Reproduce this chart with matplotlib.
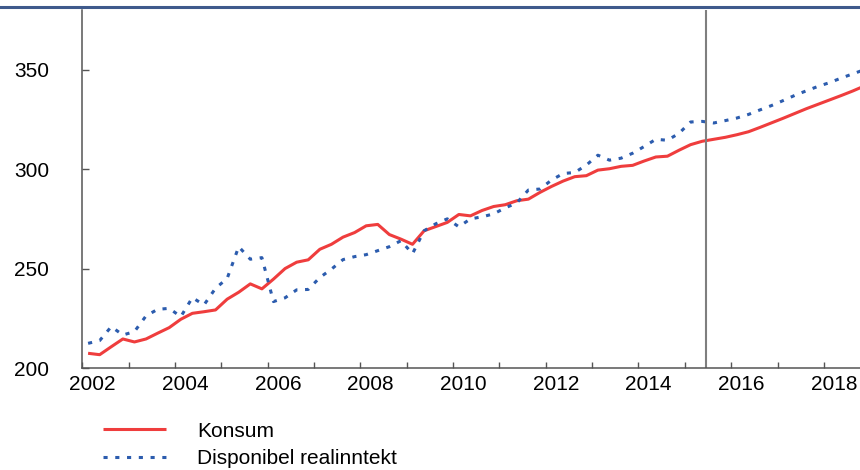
import numpy as np
import matplotlib
matplotlib.use("Agg")
import matplotlib.pyplot as plt
from matplotlib.lines import Line2D

plt.rcParams['font.family'] = ['Liberation Sans', 'DejaVu Sans']

# quarterly data 2002Q1 - 2018Q4 (mid-quarter positions)
quarters = 2002 + np.arange(68) / 4 + 0.125

konsum = [207.4, 206.7, 210.7, 214.6, 213.1, 214.6, 217.5, 220.3,
          224.5, 227.5, 228.3, 229.2, 234.6, 238.1, 242.3, 239.8,
          244.7, 250.0, 253.2, 254.4, 259.7, 262.2, 265.8, 268.1,
          271.5, 272.2, 267.1, 264.8, 262.2, 269.0, 271.1, 273.2,
          277.2, 276.5, 279.2, 281.2, 282.1, 284.1, 284.9, 288.3,
          291.3, 294.0, 296.2, 296.7, 299.5, 300.2, 301.4, 301.9,
          304.1, 306.1, 306.5, 309.5, 312.3, 314.0, 315.0, 316.0,
          317.3, 318.8, 321.0, 323.3, 325.6, 328.0, 330.4, 332.6,
          334.8, 337.0, 339.3, 341.8]

inntekt = [212.4, 213.8, 220.8, 216.6, 218.3, 226.2, 229.5, 230.0,
           225.8, 235.4, 231.7, 240.1, 245.0, 261.0, 254.7, 255.5,
           233.4, 235.3, 239.3, 239.5, 245.5, 249.7, 254.5, 256.0,
           257.0, 259.0, 261.0, 264.0, 257.5, 269.0, 272.5, 275.0,
           271.0, 275.0, 276.0, 277.5, 280.5, 283.0, 289.5, 290.0,
           294.5, 297.8, 298.3, 302.0, 307.0, 304.5, 305.5, 308.0,
           311.4, 315.0, 314.5, 318.0, 323.7, 324.0, 323.2, 324.4,
           325.7, 327.5, 329.8, 332.0, 334.5, 337.1, 339.4, 341.6,
           343.5, 345.8, 347.9, 350.0]

years = list(range(2002, 2019))
label_years = list(range(2002, 2019, 2))
prognose_start = 2015.46

red = '#ef3d3d'
blue = '#2c5cae'

fig = plt.figure(figsize=(8.6, 4.7), dpi=100)
ax = fig.add_axes([0.0957, 0.217, 0.9043, 0.7617])

ax.plot(quarters, konsum, color=red, lw=2.2, label='Konsum', solid_capstyle='butt')
ax.plot(quarters, inntekt, color=blue, lw=2.2, dashes=(1.35, 2.5), label='Disponibel realinntekt')
ax.axvline(prognose_start, color='#7f7f7f', lw=1.5)

ax.set_xlim(2002, 2018.78)
ax.set_ylim(200, 380)

for s in ['top', 'right']:
    ax.spines[s].set_visible(False)
for s in ['left', 'bottom']:
    ax.spines[s].set_color('#555555')
    ax.spines[s].set_linewidth(1.1)

# year ticks without labels, labels slightly shifted
ax.set_xticks(years)
ax.set_xticklabels([])
ax.tick_params(axis='x', which='major', direction='in', length=4, color='#555555', width=1)
ax.set_xticks([y + 0.22 for y in label_years], minor=True)
ax.set_xticklabels([str(y) for y in label_years], minor=True)
ax.tick_params(axis='x', which='minor', length=0, pad=5, labelsize=15)

ax.set_yticks([200, 250, 300, 350])
ax.tick_params(axis='y', direction='in', length=5, color='#555555', width=1,
               pad=24, labelsize=15)

# top bar of the frame
fig.add_artist(Line2D([0, 1], [0.986, 0.986], transform=fig.transFigure,
                      color='#3f5a8c', lw=2.2))

fig.legend(loc='upper left', bbox_to_anchor=(0.12, 0.103), frameon=False,
           fontsize=15, handlelength=3.0, handletextpad=1.5,
           labelspacing=0.42, borderpad=0, borderaxespad=0)

fig.savefig('out.png', dpi=100)
